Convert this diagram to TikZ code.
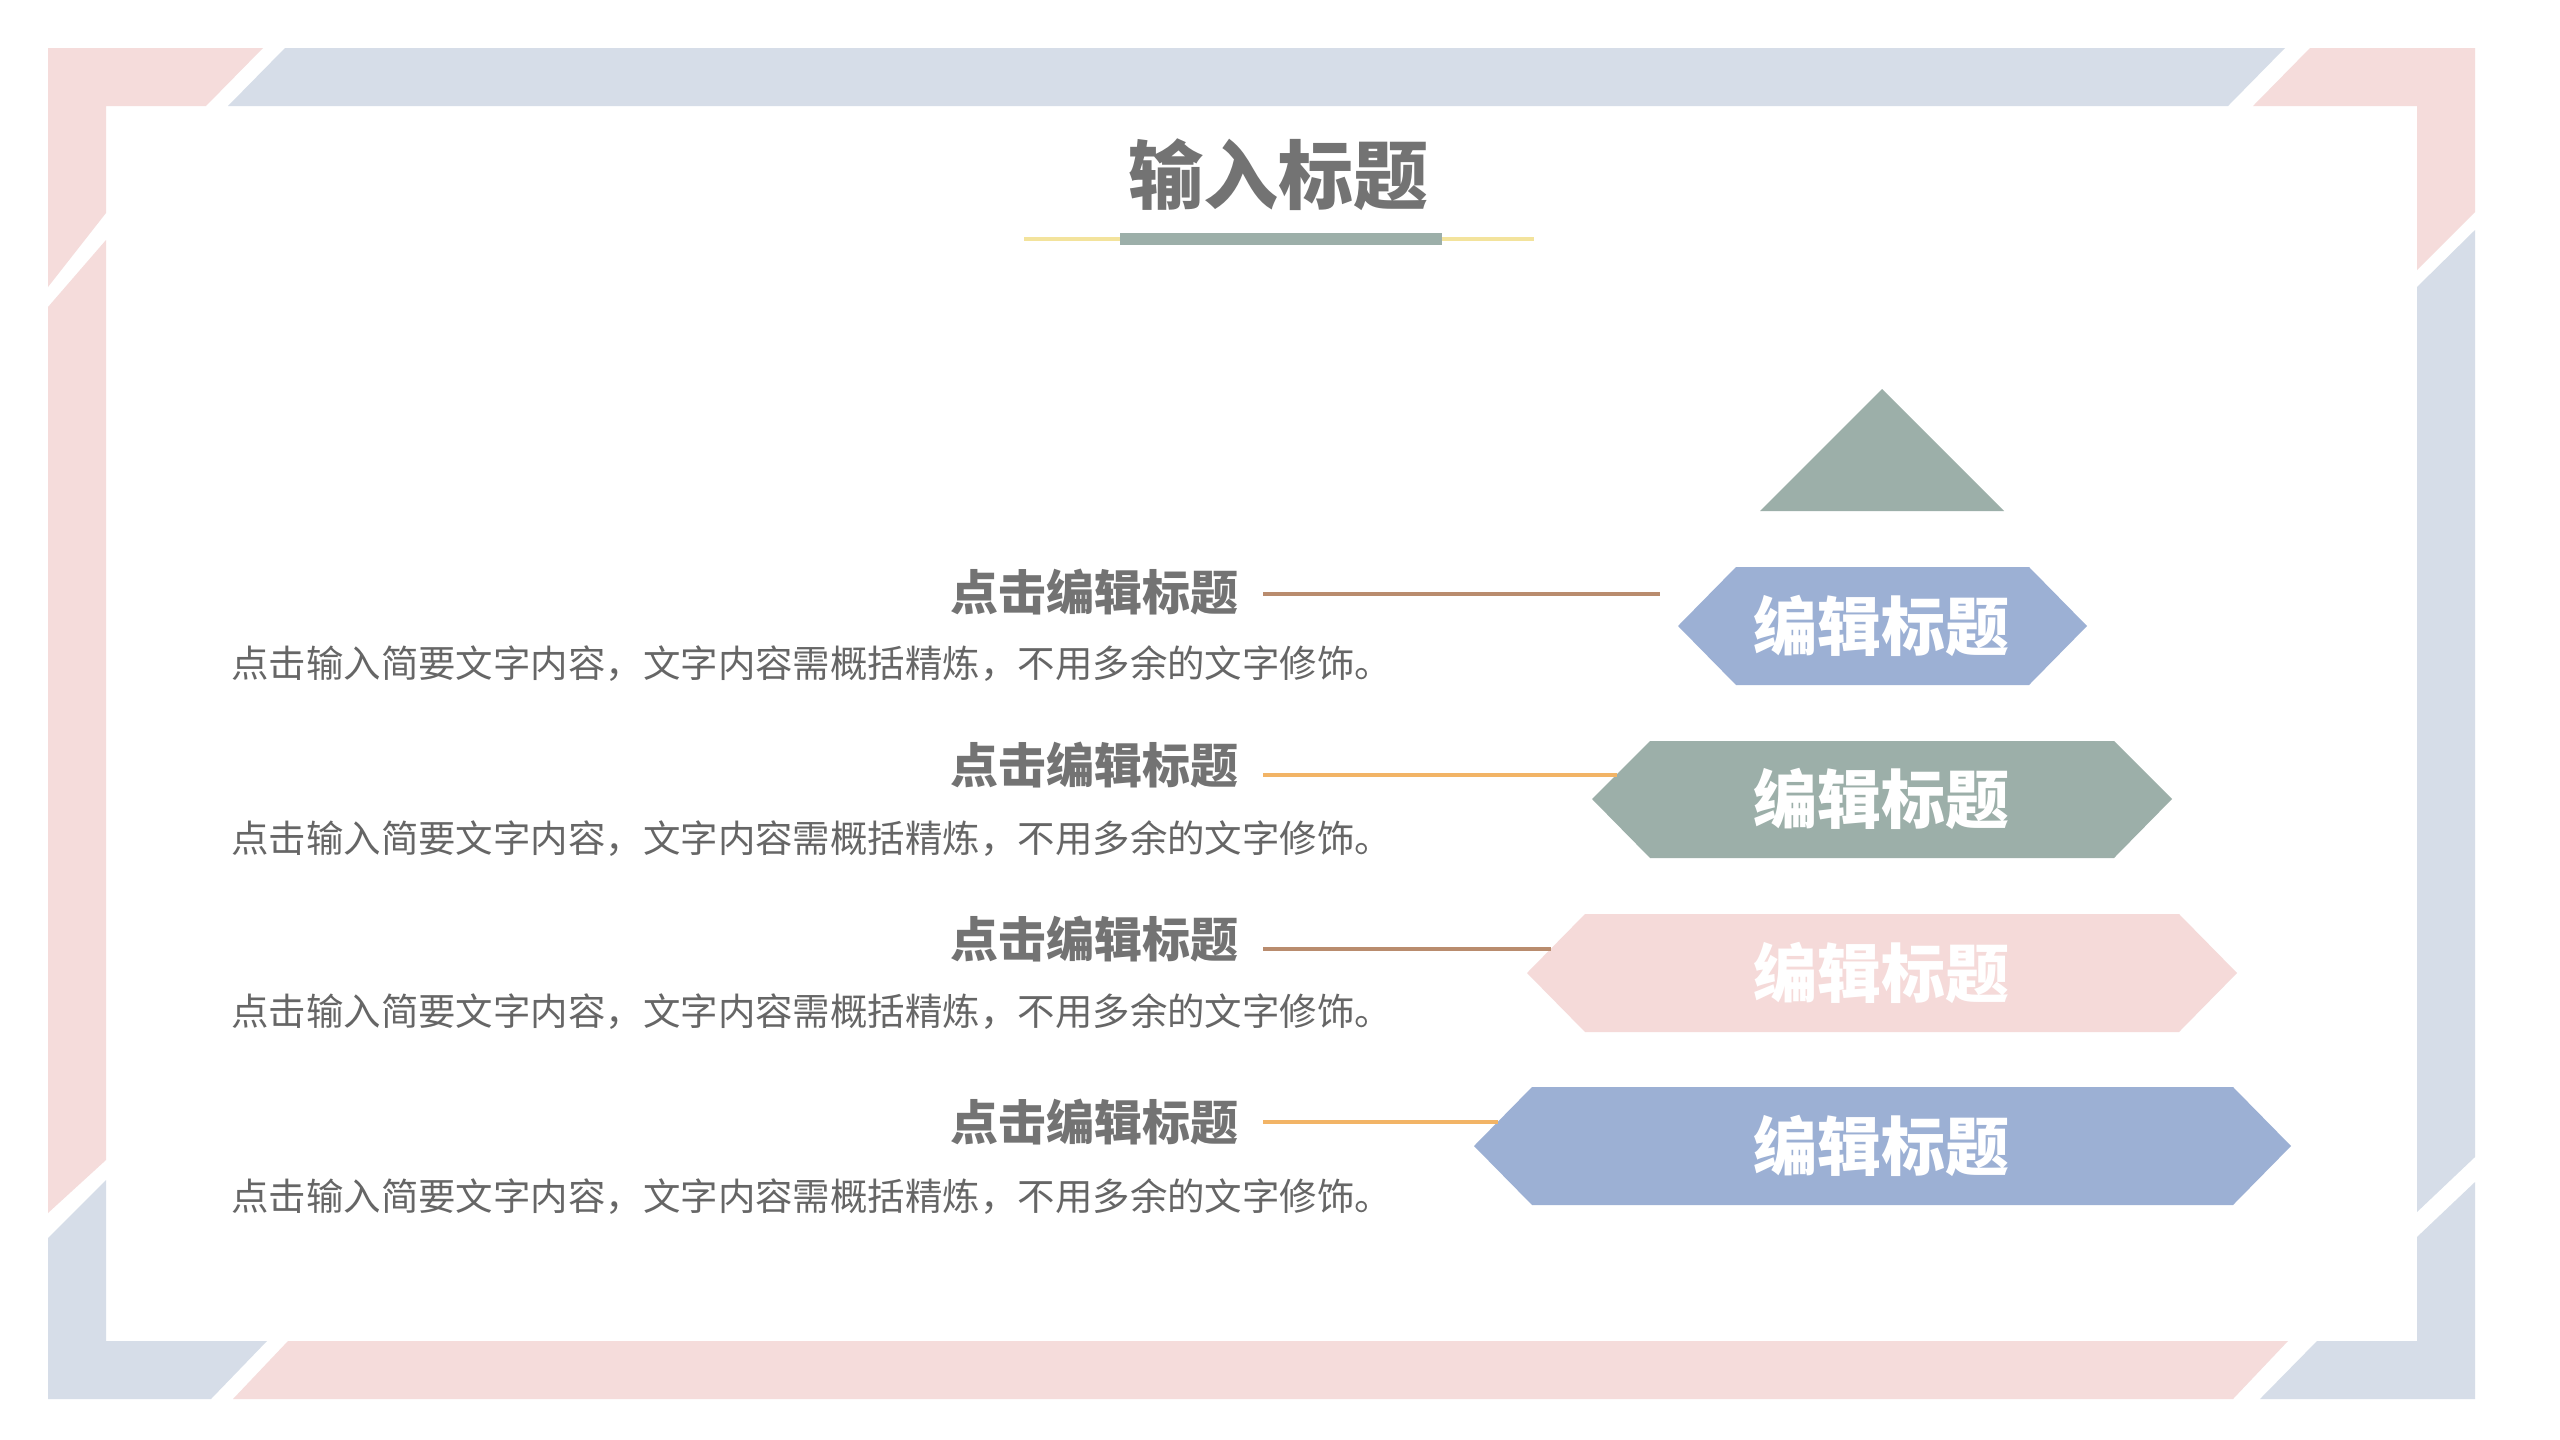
\documentclass[tikz,border=0pt]{standalone}
\usepackage{fontspec}
\newfontfamily\cjk{Noto Sans CJK SC}
\definecolor{fpink}{HTML}{F5DCDB}
\definecolor{fblue}{HTML}{D6DDE8}
\definecolor{hblue}{HTML}{9CB0D4}
\definecolor{hgreen}{HTML}{9CAFA9}
\definecolor{hpink}{HTML}{F5DAD9}
\definecolor{tgray}{HTML}{737373}
\definecolor{bgray}{HTML}{666666}
\definecolor{lbrown}{HTML}{B98C6E}
\definecolor{lorange}{HTML}{F2B466}
\definecolor{uyellow}{HTML}{F3E39C}
\tikzset{
  heading/.style={anchor=east, inner sep=0pt, text=tgray, font=\cjk\bfseries\fontsize{48}{50}\selectfont},
  bodytext/.style={anchor=west, inner sep=0pt, text=bgray, font=\cjk\fontsize{37.45}{40}\selectfont},
  hextext/.style={inner sep=0pt, text=white, font=\cjk\bfseries\fontsize{64}{66}\selectfont},
  conn/.style={line width=3.5pt},
}
\begin{document}
\begin{tikzpicture}[x=1pt,y=-1pt]
\fill[white] (0,0) rectangle (2560,1440);
\useasboundingbox (0,0) rectangle (2560,1440);

% ---- frame pieces ----
\fill[fpink] (48,48) -- (263,48) -- (206,106) -- (106,106) -- (106,213) -- (48,287) -- cycle;
\fill[fblue] (285,48) -- (2285,48) -- (2228,106) -- (228,106) -- cycle;
\fill[fpink] (2310,48) -- (2475,48) -- (2475,212) -- (2417,270) -- (2417,106) -- (2253,106) -- cycle;
\fill[fblue] (2475,230) -- (2475,1157) -- (2417,1212) -- (2417,287) -- cycle;
\fill[fblue] (2475,1182) -- (2475,1399) -- (2260,1399) -- (2317,1341) -- (2417,1341) -- (2417,1237) -- cycle;
\fill[fpink] (2288,1341) -- (2233,1399) -- (233,1399) -- (288,1341) -- cycle;
\fill[fblue] (267,1341) -- (211,1399) -- (48,1399) -- (48,1238) -- (106,1180) -- (106,1341) -- cycle;
\fill[fpink] (48,307) -- (106,240) -- (106,1160) -- (48,1213) -- cycle;

% ---- title ----
\draw[uyellow, line width=4pt] (1024,239) -- (1534,239);
\fill[hgreen] (1120,233) rectangle (1442,245);
\node[inner sep=0pt, text=tgray, font=\cjk\bfseries\fontsize{75}{78}\selectfont] (title) at (1278,175) {输入标题};

% ---- pyramid ----
\fill[hgreen] (1882,389) -- (2004,511) -- (1760,511) -- cycle;
\fill[hblue]  (1678,626) -- (1736,567) -- (2029,567) -- (2087,626) -- (2029,685) -- (1736,685) -- cycle;
\fill[hgreen] (1592,799) -- (1650,741) -- (2114,741) -- (2172,799) -- (2114,858) -- (1650,858) -- cycle;
\fill[hpink]  (1527,973) -- (1585,914) -- (2179,914) -- (2237,973) -- (2179,1032) -- (1585,1032) -- cycle;
\fill[hblue]  (1474,1146) -- (1532,1087) -- (2233,1087) -- (2291,1146) -- (2233,1205) -- (1532,1205) -- cycle;

\node[hextext] (hx1) at (1881,626) {编辑标题};
\node[hextext] (hx2) at (1881,799) {编辑标题};
\node[hextext] (hx3) at (1881,973) {编辑标题};
\node[hextext] (hx4) at (1881,1146) {编辑标题};

% ---- headings & body ----
\node[heading] (h1) at (1239,592) {点击编辑标题};
\node[heading] (h2) at (1239,765) {点击编辑标题};
\node[heading] (h3) at (1239,939) {点击编辑标题};
\node[heading] (h4) at (1239,1122) {点击编辑标题};

\node[bodytext] (b1) at (231,664) {点击输入简要文字内容，文字内容需概括精炼，不用多余的文字修饰。};
\node[bodytext] (b2) at (231,839) {点击输入简要文字内容，文字内容需概括精炼，不用多余的文字修饰。};
\node[bodytext] (b3) at (231,1012) {点击输入简要文字内容，文字内容需概括精炼，不用多余的文字修饰。};
\node[bodytext] (b4) at (231,1197) {点击输入简要文字内容，文字内容需概括精炼，不用多余的文字修饰。};

% ---- connectors ----
\coordinate (s1) at (1263,594);  \coordinate (e1) at (1660,594);
\coordinate (s2) at (1263,775);  \coordinate (e2) at (1617,775);
\coordinate (s3) at (1263,949);  \coordinate (e3) at (1551,949);
\coordinate (s4) at (1263,1122); \coordinate (e4) at (1498,1122);
\draw[conn, lbrown]  (s1) -- (e1);
\draw[conn, lorange] (s2) -- (e2);
\draw[conn, lbrown]  (s3) -- (e3);
\draw[conn, lorange] (s4) -- (e4);
\end{tikzpicture}
\end{document}
